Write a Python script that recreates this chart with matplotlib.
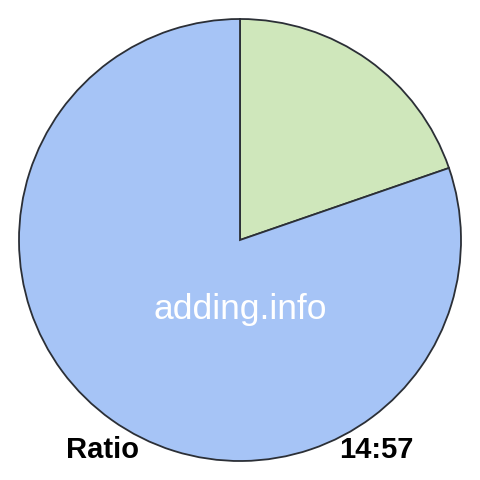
import matplotlib.pyplot as plt

labels = ['14', '57']
values = [14, 57]
colors = ['#cfe7bb', '#a6c4f6']
ratio_text = '14:57'

fig = plt.figure(figsize=(4.8, 4.8), dpi=100)
ax = fig.add_axes([0, 0, 1, 1])

ax.pie(values, colors=colors, startangle=90, counterclock=False,
       center=(240, 240), radius=221,
       wedgeprops=dict(edgecolor='#2b2f36', linewidth=1.3), frame=True)
ax.set_xlim(0, 480)
ax.set_ylim(0, 480)
ax.set_aspect('equal')
ax.axis('off')

ax.text(240, 170, 'adding.info', color='white', fontsize=25.5,
        family='Liberation Sans', ha='center', va='center')
ax.text(103, 30, 'Ratio', color='black', fontsize=21, fontweight='bold',
        family='Liberation Sans', ha='center', va='center')
ax.text(376, 30, ratio_text, color='black', fontsize=21, fontweight='bold',
        family='Liberation Sans', ha='center', va='center')

fig.savefig('out.png', dpi=100, facecolor='white')
